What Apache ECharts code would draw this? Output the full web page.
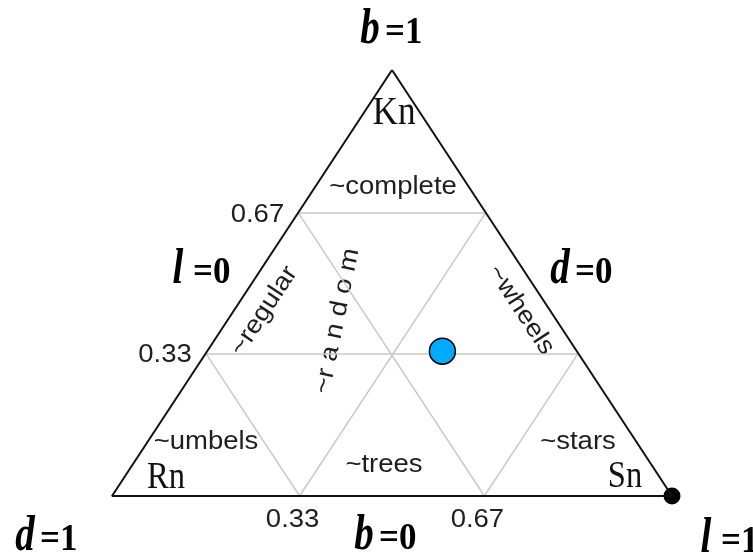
<!DOCTYPE html>
<html>
<head>
<meta charset="utf-8">
<script src="https://cdn.jsdelivr.net/npm/echarts@6/dist/echarts.min.js"></script>
<style>
  html, body { margin: 0; padding: 0; background: #fff; }
  #chart { width: 753px; height: 558px; }
</style>
</head>
<body>
<div id="chart"></div>
<script>
// ternary points are [b, l, d]
const corners = [[1, 0, 0], [0, 0, 1], [0, 1, 0], [1, 0, 0]];
const gridValues = [0.335, 0.665];
const tickLabels = ['0.33', '0.67'];
const graphPoint = [0.34, 0.42, 0.24];
const endPoint = [0, 1, 0];

// b goes up, l goes right along the base
function toXY(p) {
  return [p[1] + p[0] / 2, p[0]];
}

let gridLines = [];
gridValues.forEach(t => {
  gridLines.push({ coords: [toXY([t, 0, 1 - t]), toXY([t, 1 - t, 0])] });
  gridLines.push({ coords: [toXY([0, t, 1 - t]), toXY([1 - t, t, 0])] });
  gridLines.push({ coords: [toXY([0, 1 - t, t]), toXY([1 - t, 0, t])] });
});

let myChart = echarts.init(document.getElementById('chart'));

let option = {
  animation: false,
  grid: { left: 112, right: 81, top: 70, bottom: 62 },
  xAxis: { type: 'value', min: 0, max: 1, show: false },
  yAxis: { type: 'value', min: 0, max: 1, show: false },
  series: [
    {
      type: 'lines',
      coordinateSystem: 'cartesian2d',
      data: gridLines,
      lineStyle: { color: '#c9c9c9', width: 1.5, opacity: 1 },
      silent: true
    },
    {
      type: 'line',
      data: corners.map(toXY),
      symbol: 'none',
      lineStyle: { color: '#111', width: 2 },
      silent: true
    },
    {
      type: 'scatter',
      data: [toXY(graphPoint)],
      symbolSize: 26,
      itemStyle: { color: '#00aaff', borderColor: '#000', borderWidth: 1.5, opacity: 1 },
      clip: false
    },
    {
      type: 'scatter',
      data: [toXY(endPoint)],
      symbolSize: 17,
      itemStyle: { color: '#000', opacity: 1 },
      clip: false
    }
  ]
};

myChart.setOption(option);

const sans = 'Liberation Sans, Arial, sans-serif';
const serif = 'Liberation Serif, Times New Roman, serif';

function sansText(text, x, y, rot) {
  return {
    type: 'text', x: x, y: y, rotation: rot || 0, scaleX: 1.1,
    style: { text: text, font: '25px ' + sans, fill: '#1e1e1e', align: 'center', verticalAlign: 'middle' }
  };
}

function serifText(text, x, y, size) {
  return {
    type: 'text', x: x, y: y, scaleX: 0.88,
    style: { text: text, font: size + 'px ' + serif, fill: '#111', align: 'center', verticalAlign: 'middle' }
  };
}

// variable name in bold italic, value in bold
function varText(name, value, x, y) {
  return [
    {
      type: 'text', x: x, y: y - 3, scaleX: 0.78,
      style: { text: name, font: 'italic bold 50px ' + serif, fill: '#000', align: 'center', verticalAlign: 'middle' }
    },
    {
      type: 'text', x: x + 15, y: y, scaleX: 0.92,
      style: { text: value, font: 'bold 38px ' + serif, fill: '#000', align: 'left', verticalAlign: 'middle' }
    }
  ];
}

let texts = [];

gridValues.forEach((t, i) => {
  let left = myChart.convertToPixel({ gridIndex: 0 }, toXY([t, 0, 1 - t]));
  texts.push({
    type: 'text', x: left[0] - 14, y: left[1] + 2, scaleX: 1.1,
    style: { text: tickLabels[i], font: '25px ' + sans, fill: '#1e1e1e', align: 'right', verticalAlign: 'middle' }
  });
  let bottom = myChart.convertToPixel({ gridIndex: 0 }, toXY([0, t, 1 - t]));
  texts.push(sansText(tickLabels[i], bottom[0] - 7, bottom[1] + 24));
});

texts.push(sansText('~complete', 393, 187));
texts.push(sansText('~regular', 264, 311, 0.99));
texts.push(sansText('~r a n d o m', 337, 321, 1.37));
texts.push(sansText('~wheels', 521, 310, -0.99));
texts.push(sansText('~umbels', 206, 442));
texts.push(sansText('~trees', 384, 465));
texts.push(sansText('~stars', 578, 442));

texts.push(serifText('Kn', 394, 113, 40));
texts.push(serifText('Rn', 166, 478, 37));
texts.push(serifText('Sn', 625, 477, 37));

texts = texts.concat(varText('b', '=1', 370, 33));
texts = texts.concat(varText('l', '=0', 178, 273));
texts = texts.concat(varText('d', '=0', 560, 273));
texts = texts.concat(varText('d', '=1', 25, 540));
texts = texts.concat(varText('b', '=0', 364, 539));
texts = texts.concat(varText('l', '=1', 706, 542));

myChart.setOption({ graphic: texts });
</script>
</body>
</html>
